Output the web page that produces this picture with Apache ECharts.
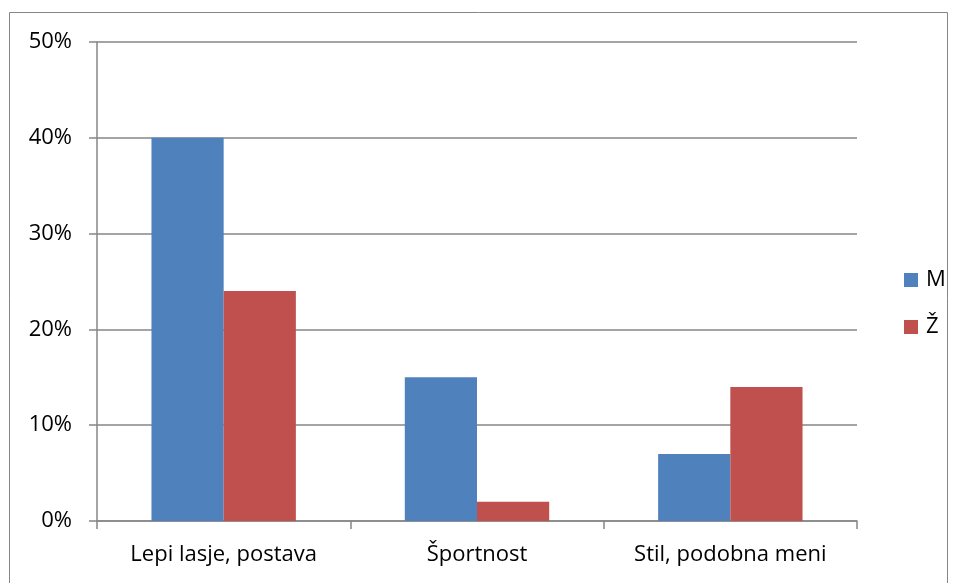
<!DOCTYPE html>
<html>
<head>
<meta charset="utf-8">
<script src="https://cdn.jsdelivr.net/npm/echarts@6/dist/echarts.min.js"></script>
<style>
  html, body { margin: 0; padding: 0; background: #fff; }
  #chart-container { width: 957px; height: 583px; }
</style>
</head>
<body>
<div id="chart-container"></div>
<script>
const categories = ['Lepi lasje, postava', 'Športnost', 'Stil, podobna meni'];
const valuesM = [40, 15, 7];
const valuesZ = [24, 2, 14];
const yTicks = [0, 10, 20, 30, 40, 50];

const font = 'Open Sans';
const grey = '#868686';

let option = {
  animation: false,
  textStyle: { fontFamily: font },
  graphic: [
    {
      type: 'rect',
      shape: { x: 9.5, y: 12.5, width: 938, height: 600 },
      style: { fill: 'none', stroke: grey, lineWidth: 1 },
      silent: true,
    },
  ],
  grid: { left: 97, right: 100, top: 42, bottom: 62 },
  legend: {
    orient: 'vertical',
    left: 899,
    top: 264,
    itemWidth: 14,
    itemHeight: 14,
    itemGap: 25,
    icon: 'rect',
    textStyle: { fontFamily: font, fontSize: 22, color: '#000', padding: [0, 0, 0, 3] },
    data: ['M', 'Ž'],
  },
  xAxis: {
    type: 'category',
    data: categories,
    axisLine: { lineStyle: { color: grey, width: 1.5 } },
    axisTick: { show: true, interval: 0, length: 8, alignWithLabel: false, lineStyle: { color: grey, width: 1.5 } },
    axisLabel: { color: '#000', fontSize: 22, margin: 23, interval: 0, hideOverlap: false, fontFamily: font },
  },
  yAxis: {
    type: 'value',
    min: yTicks[0],
    max: yTicks[yTicks.length - 1],
    interval: 10,
    axisLine: { show: true, lineStyle: { color: grey, width: 1.5 } },
    axisTick: { show: true, length: 8, lineStyle: { color: grey, width: 1.5 } },
    axisLabel: { color: '#000', fontSize: 22, margin: 25, fontFamily: font, formatter: '{value}%' },
    splitLine: { lineStyle: { color: grey, width: 1.5 } },
  },
  series: [
    {
      name: 'M',
      type: 'bar',
      data: valuesM,
      barGap: '0%',
      barCategoryGap: '43%',
      itemStyle: { color: '#4F81BD' },
    },
    {
      name: 'Ž',
      type: 'bar',
      data: valuesZ,
      barGap: '0%',
      barCategoryGap: '43%',
      itemStyle: { color: '#C0504D' },
    },
  ],
};

var myChart = echarts.init(document.getElementById('chart-container'));
myChart.setOption(option);
</script>
</body>
</html>
